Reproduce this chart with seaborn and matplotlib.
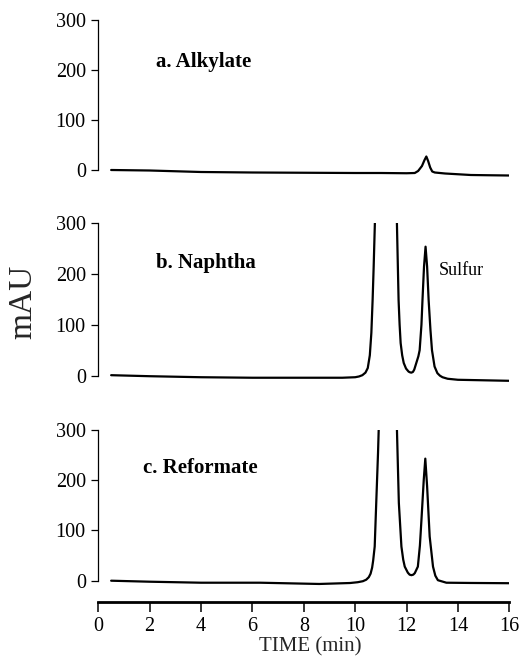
import matplotlib
matplotlib.use("Agg")
import matplotlib.pyplot as plt
import seaborn as sns
import pandas as pd

# ---- data ----
t_alkylate = [0.5, 2, 4, 6, 8, 10, 11, 12, 12.32, 12.45, 12.6, 12.7, 12.77, 12.84, 12.92, 13.0, 13.1, 13.5, 14.5, 15.2, 16]
v_alkylate = [0, -1, -4, -5, -5.5, -6, -6, -6.5, -6, -2, 8, 20, 27, 18, 5, -3, -5, -7, -10, -10.5, -11]

t_naphtha = [0.5, 2, 4, 6, 8, 9.5, 10.0, 10.15, 10.28, 10.4, 10.49, 10.57, 10.63, 10.68, 10.72,
             10.85, 11.2, 11.56, 11.69, 11.73, 11.77, 11.83, 11.89, 11.98, 12.08, 12.14, 12.19,
             12.25, 12.3, 12.38, 12.46, 12.51, 12.58, 12.62, 12.68, 12.74, 12.8, 12.86, 12.93, 12.99,
             13.09, 13.2, 13.3, 13.4, 13.6, 14, 15, 16]
v_naphtha = [1, -1, -3, -4, -4, -4, -3, -1.5, 1, 6, 15, 40, 84, 150, 214,
             450, 1500, 450, 148, 100, 64, 40, 25, 14, 8, 6.5, 6,
             7.5, 12, 25, 38, 50, 100, 148, 214, 253, 214, 148, 90, 50,
             18, 5, 0, -3, -6, -8, -9, -10]

t_reformate = [0.5, 2, 4, 6.3, 8.6, 9.8, 10.1, 10.3, 10.43, 10.53, 10.6, 10.66, 10.7, 10.76, 10.82, 10.89,
               11.0, 11.25, 11.55, 11.70, 11.80, 11.87, 11.93, 12.05, 12.12, 12.19, 12.26, 12.32, 12.44, 12.52,
               12.58, 12.67, 12.73, 12.80, 12.90, 13.03, 13.12, 13.22, 13.55, 14.5, 16]
v_reformate = [0, -2, -4, -4, -6.5, -4.6, -3, -1, 2, 7, 14, 26, 40, 68, 155, 255,
               450, 1500, 450, 155, 68, 42, 28, 16, 12, 11, 12, 15, 28, 70,
               121, 201, 243, 188, 88, 28, 10, 1, -4, -4.5, -5]

panel_labels = ["a. Alkylate", "b. Naphtha", "c. Reformate"]
y_ticks = [0, 100, 200, 300]
x_ticks = [0, 2, 4, 6, 8, 10, 12, 14, 16]
peak_label = "Sulfur"

# ---- styling ----
sns.set_style("ticks")
plt.rcParams["font.family"] = ["Liberation Serif", "DejaVu Serif"]
plt.rcParams["axes.linewidth"] = 0.9

W, H = 522, 660
fig = plt.figure(figsize=(W / 100, H / 100), dpi=100)

left = 98.3 / W
width = 411 / W

def add_axes(top_px, bottom_px):
    return fig.add_axes([left, 1 - bottom_px / H, width, (bottom_px - top_px) / H])

ax_a = add_axes(20, 185)
ax_b = add_axes(222.7, 391)
ax_c = add_axes(430, 601.5)

series = [(t_alkylate, v_alkylate), (t_naphtha, v_naphtha), (t_reformate, v_reformate)]
ylims = [(-30, 300), (-30, 300), (-41.4, 300)]
label_pos = [(2.24, 216), (2.26, 221), (1.75, 225)]

for i, (ax, (tt, vv)) in enumerate(zip([ax_a, ax_b, ax_c], series)):
    df = pd.DataFrame({"time": tt, "mAU": vv})
    sns.lineplot(data=df, x="time", y="mAU", ax=ax, color="black", linewidth=1.6,
                 sort=False, estimator=None)
    ax.set_xlim(0, 16)
    ax.set_ylim(*ylims[i])
    ax.set_yticks(y_ticks)
    ax.set_yticklabels([str(v) for v in y_ticks])
    ax.tick_params(axis="y", direction="out", length=5, width=0.9, pad=4,
                   labelsize=14.5, colors="black")
    ax.spines["left"].set_bounds(0, 300)
    ax.spines["left"].set_color("black")
    ax.spines["top"].set_visible(False)
    ax.spines["right"].set_visible(False)
    ax.set_xlabel("")
    ax.set_ylabel("")
    ax.set_facecolor("none")
    if ax is not ax_c:
        ax.spines["bottom"].set_visible(False)
        ax.set_xticks([])
    ax.text(label_pos[i][0], label_pos[i][1], panel_labels[i], fontsize=15,
            fontweight="bold", ha="left", va="center", color="black")

ax_c.set_xticks(x_ticks)
ax_c.set_xticklabels([str(v) for v in x_ticks])
ax_c.spines["bottom"].set_linewidth(2.0)
ax_c.spines["bottom"].set_color("black")
ax_c.tick_params(axis="x", direction="out", length=7, width=1.1, pad=4,
                 labelsize=14.5, colors="black")

ax_b.text(13.25, 207, peak_label, fontsize=13, ha="left", va="center", color="black")

fig.text(23 / W, 1 - 302 / H, "mAU", rotation=90, fontsize=24, ha="center", va="center")
fig.text(310 / W, 1 - 647 / H, "TIME (min)", fontsize=15, ha="center", va="center")

fig.savefig("out.png", dpi=100, facecolor="white")
